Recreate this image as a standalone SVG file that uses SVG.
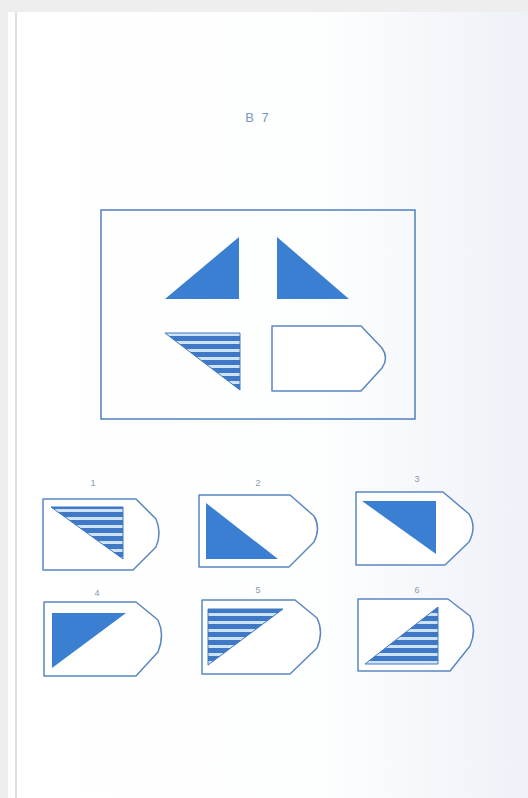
<svg xmlns="http://www.w3.org/2000/svg" width="528" height="798" viewBox="0 0 528 798">
<defs>
<pattern id="stripes" patternUnits="userSpaceOnUse" width="8" height="8">
<rect width="8" height="8" fill="#cfe3f8"/>
<rect width="8" height="5" fill="#3f78c4"/>
</pattern>
<linearGradient id="page" x1="0" y1="0" x2="1" y2="0">
<stop offset="0" stop-color="#ffffff"/>
<stop offset="0.6" stop-color="#fdfefe"/>
<stop offset="1" stop-color="#eef1f8"/>
</linearGradient>
</defs>
<style>
.frame{fill:none;stroke:#4f7fbf;stroke-width:1.5}
.tag{fill:#ffffff;stroke:#5a86c2;stroke-width:1.5;stroke-linejoin:round}
.solid{fill:#3b7fd3}
.striped{fill:url(#stripes);stroke:#3f78c4;stroke-width:1}
.num{font-family:"Liberation Sans",Arial,sans-serif;font-size:9px;fill:#8a9ab0;text-anchor:middle}
.title{font-family:"Liberation Sans",Arial,sans-serif;font-size:13px;fill:#7898c4;text-anchor:middle;letter-spacing:2px}
</style>
<rect width="528" height="798" fill="#eeeeee"/>
<rect x="8" y="12" width="520" height="786" fill="url(#page)"/>
<line x1="16" y1="12" x2="16" y2="798" stroke="#d4d4d4" stroke-width="1.5"/>
<text class="title" x="258" y="122">B 7</text>
<g id="matrix">
<rect class="frame" x="101" y="210" width="314" height="209"/>
<polygon class="solid" points="165,299 239,237 239,299"/>
<polygon class="solid" points="277,237 277,299 349,299"/>
<polygon class="striped" points="165,333 240,333 240,390"/>
<path class="tag" d="M272,326 H361 L382,348 Q389,358 382,368 L361,391 H272 Z"/>
</g>
<g id="option1">
<text class="num" x="93" y="486">1</text>
<path class="tag" d="M43,499 H136 L156,519 Q162,533 156,547 L133,570 H43 Z"/>
<polygon class="striped" points="51,507 123,507 123,559"/>
</g>
<g id="option2">
<text class="num" x="258" y="486">2</text>
<path class="tag" d="M199,495 H290 L314,516 Q321,528 314,542 L289,567 H199 Z"/>
<polygon class="solid" points="206,503 206,559 278,559"/>
</g>
<g id="option3">
<text class="num" x="417" y="482">3</text>
<path class="tag" d="M356,492 H443 L469,514 Q477,527 469,542 L445,565 H356 Z"/>
<polygon class="solid" points="362,501 436,501 436,554"/>
</g>
<g id="option4">
<text class="num" x="97" y="596">4</text>
<path class="tag" d="M44,602 H136 L158,620 Q165,635 158,652 L136,676 H44 Z"/>
<polygon class="solid" points="52,613 126,613 52,668"/>
</g>
<g id="option5">
<text class="num" x="258" y="593">5</text>
<path class="tag" d="M202,600 H295 L317,618 Q324,632 317,648 L290,674 H202 Z"/>
<polygon class="striped" points="208,609 283,609 208,665"/>
</g>
<g id="option6">
<text class="num" x="417" y="593">6</text>
<path class="tag" d="M358,599 H448 L470,616 Q477,630 470,646 L450,671 H358 Z"/>
<polygon class="striped" points="365,664 438,664 438,607"/>
</g>
</svg>
